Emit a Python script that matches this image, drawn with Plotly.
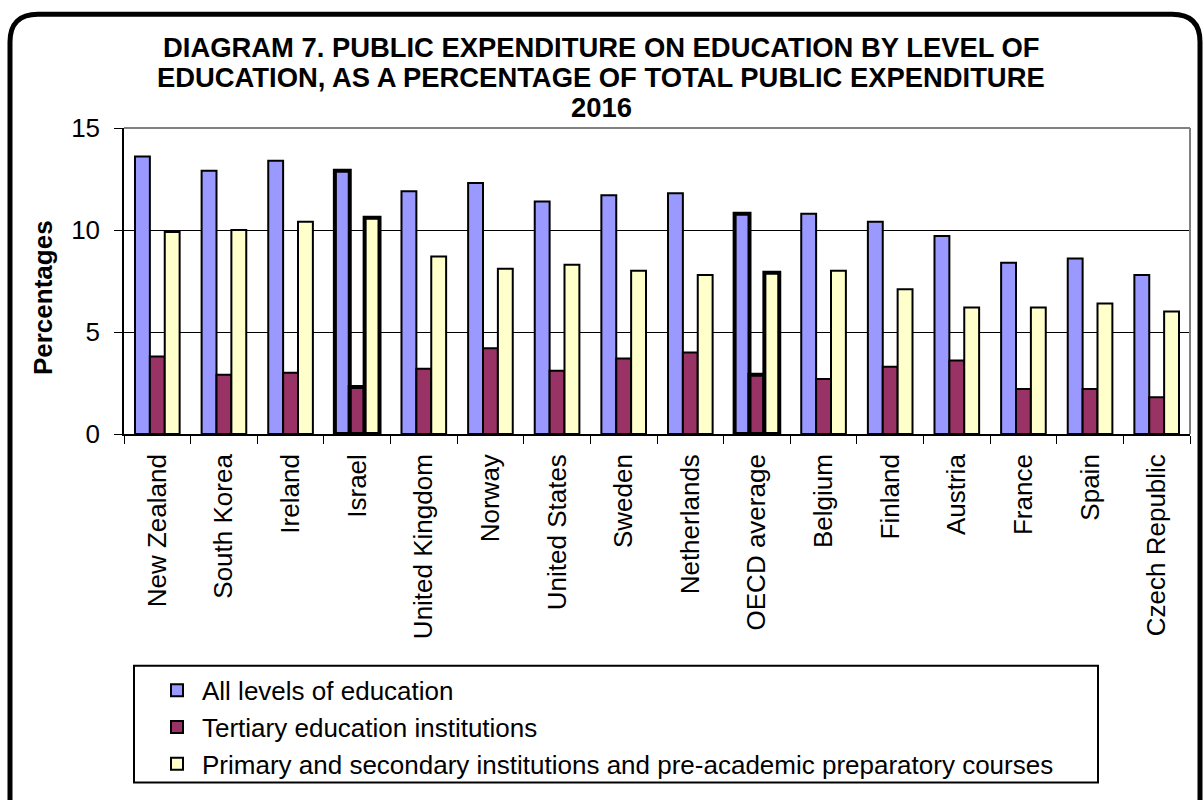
import plotly.graph_objects as go

countries = ["New Zealand", "South Korea", "Ireland", "Israel", "United Kingdom", "Norway",
             "United States", "Sweden", "Netherlands", "OECD average", "Belgium", "Finland",
             "Austria", "France", "Spain", "Czech Republic"]
all_levels = [13.6, 12.9, 13.4, 12.9, 11.9, 12.3, 11.4, 11.7, 11.8, 10.8, 10.8, 10.4, 9.7, 8.4, 8.6, 7.8]
tertiary = [3.8, 2.9, 3.0, 2.3, 3.2, 4.2, 3.1, 3.7, 4.0, 2.9, 2.7, 3.3, 3.6, 2.2, 2.2, 1.8]
primary_secondary = [9.9, 10.0, 10.4, 10.6, 8.7, 8.1, 8.3, 8.0, 7.8, 7.9, 8.0, 7.1, 6.2, 6.2, 6.4, 6.0]
highlighted = ["Israel", "OECD average"]

series_names = ["All levels of education", "Tertiary education institutions",
                "Primary and secondary institutions and pre-academic preparatory courses"]
series_colors = ["#9999FF", "#993366", "#FFFFCC"]

title_lines = ["DIAGRAM 7. PUBLIC EXPENDITURE ON EDUCATION BY LEVEL OF",
               "EDUCATION, AS A PERCENTAGE OF TOTAL PUBLIC EXPENDITURE",
               "2016"]

FONT = "Liberation Sans, Arial, sans-serif"
W, H = 1203, 800
L, R, T, B = 124, 13, 128, 362.5
PW, PH = W - L - R, H - T - B

def px(x):
    return (x - L) / PW

def py(y):
    return (H - B - y) / PH

line_widths = [4 if c in highlighted else 2 for c in countries]

fig = go.Figure()
for name, vals, col in zip(series_names, [all_levels, tertiary, primary_secondary], series_colors):
    fig.add_trace(go.Bar(
        x=countries, y=vals, name=name,
        marker=dict(color=col, line=dict(color="black", width=line_widths)),
    ))

annotations = []
for txt, yc in zip(title_lines, [46.5, 77.3, 107.5]):
    annotations.append(dict(text="<b>%s</b>" % txt, x=px(601), y=py(yc), xref="paper", yref="paper",
                            xanchor="center", yanchor="middle", showarrow=False,
                            font=dict(family=FONT, size=27.4, color="black")))
annotations.append(dict(text="<b>Percentages</b>", x=px(43), y=py(300), xref="paper", yref="paper",
                        xanchor="center", yanchor="middle", showarrow=False, textangle=-90,
                        font=dict(family=FONT, size=26, color="black")))

r = 28
x0, x1, y0, y1 = 10, 1200, 13, 830
def P(x, y):
    return "%f,%f" % (px(x), py(y))
path = ("M %s L %s Q %s %s L %s Q %s %s L %s L %s Z" % (
    P(x0, y1), P(x0, y0 + r), P(x0, y0), P(x0 + r, y0), P(x1 - r, y0), P(x1, y0), P(x1, y0 + r),
    P(x1, y1), P(x0, y1)))

shapes = [
    dict(type="path", path=path, xref="paper", yref="paper", line=dict(color="black", width=5), layer="below"),
    dict(type="line", xref="paper", yref="paper", x0=0, x1=1, y0=1, y1=1, line=dict(color="#808080", width=2), layer="above"),
    dict(type="line", xref="paper", yref="paper", x0=1, x1=1, y0=0, y1=1, line=dict(color="#808080", width=2), layer="above"),
    dict(type="rect", xref="paper", yref="paper", x0=px(134), x1=px(1098), y0=py(790), y1=py(672),
         line=dict(color="black", width=2), layer="below"),
]

fig.update_layout(
    width=W, height=H,
    margin=dict(l=L, r=R, t=T, b=B, pad=0),
    paper_bgcolor="white", plot_bgcolor="white",
    barmode="group", bargap=0.33, bargroupgap=0,
    font=dict(family=FONT, size=26, color="black"),
    annotations=annotations, shapes=shapes,
    showlegend=True,
    legend=dict(x=px(152), y=py(673), xanchor="left", yanchor="top", orientation="v",
                bgcolor="rgba(0,0,0,0)", borderwidth=0, itemwidth=40, tracegroupgap=0,
                font=dict(family=FONT, size=26, color="black"), traceorder="normal"),
    xaxis=dict(type="category", tickangle=-90, ticks="outside", ticklen=8, tickcolor="black",
               tickson="boundaries", showline=True, linecolor="black", linewidth=1.5,
               showgrid=False, ticklabelstandoff=8,
               tickfont=dict(family=FONT, size=26, color="black")),
    yaxis=dict(range=[0, 15], tickvals=[0, 5, 10, 15], ticks="outside", ticklen=8, tickcolor="black",
               showline=True, linecolor="black", linewidth=1.5, showgrid=True, gridcolor="black",
               gridwidth=1, zeroline=False, ticklabelstandoff=9,
               tickfont=dict(family=FONT, size=26, color="black")),
)

fig.write_html("out.html", config={"displayModeBar": False},
               post_script="document.body.style.margin='0';document.body.style.overflow='hidden';")
